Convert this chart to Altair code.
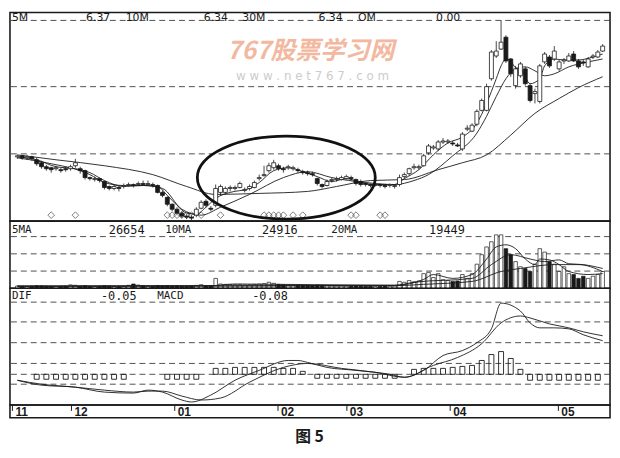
import altair as alt
import pandas as pd

# ---------------- data ----------------
open_ = [
    6.43, 6.44, 6.42, 6.43, 6.40, 6.37, 6.33, 6.32, 6.31, 6.30,
    6.31, 6.31, 6.34, 6.31, 6.29, 6.22, 6.20, 6.21, 6.18, 6.13,
    6.11, 6.12, 6.13, 6.14, 6.15, 6.15, 6.16, 6.15, 6.15, 6.14,
    6.07, 6.02, 5.95, 5.90, 5.86, 5.83, 5.82, 5.84, 5.91, 5.98,
    5.91, 5.94, 6.07, 6.07, 6.11, 6.11, 6.12, 6.09, 6.11, 6.12,
    6.21, 6.24, 6.29, 6.32, 6.34, 6.31, 6.32, 6.31, 6.30, 6.28,
    6.27, 6.26, 6.21, 6.15, 6.14, 6.19, 6.20, 6.20, 6.21, 6.22,
    6.20, 6.18, 6.16, 6.15, 6.14, 6.15, 6.14, 6.14, 6.13, 6.15,
    6.23, 6.26, 6.32, 6.32, 6.34, 6.47, 6.52, 6.51, 6.58, 6.58,
    6.57, 6.55, 6.51, 6.71, 6.69, 6.76, 6.90, 6.90, 7.22, 7.45,
    7.52, 7.64, 7.42, 7.15, 7.25, 7.32, 7.15, 7.07, 6.99, 7.39,
    7.44, 7.42, 7.32, 7.40, 7.40, 7.47, 7.40, 7.39, 7.34, 7.44,
    7.44, 7.50]
close = [
    6.44, 6.42, 6.43, 6.41, 6.36, 6.33, 6.31, 6.30, 6.32, 6.29,
    6.30, 6.33, 6.37, 6.29, 6.22, 6.21, 6.21, 6.19, 6.12, 6.11,
    6.13, 6.11, 6.14, 6.15, 6.14, 6.16, 6.15, 6.16, 6.14, 6.07,
    6.04, 5.95, 5.90, 5.86, 5.83, 5.82, 5.81, 5.90, 5.97, 5.94,
    5.90, 6.11, 6.13, 6.11, 6.12, 6.12, 6.16, 6.10, 6.13, 6.17,
    6.22, 6.25, 6.34, 6.37, 6.31, 6.30, 6.33, 6.32, 6.29, 6.27,
    6.26, 6.25, 6.16, 6.13, 6.18, 6.20, 6.21, 6.22, 6.23, 6.21,
    6.16, 6.15, 6.15, 6.14, 6.15, 6.14, 6.13, 6.15, 6.14, 6.22,
    6.25, 6.31, 6.33, 6.33, 6.44, 6.54, 6.53, 6.58, 6.59, 6.59,
    6.56, 6.54, 6.66, 6.72, 6.75, 6.89, 7.00, 7.14, 7.49, 7.50,
    7.59, 7.40, 7.27, 7.32, 7.37, 7.17, 7.00, 7.09, 7.35, 7.47,
    7.35, 7.50, 7.39, 7.41, 7.45, 7.40, 7.34, 7.38, 7.42, 7.45,
    7.49, 7.55]
high = [
    6.45, 6.45, 6.45, 6.44, 6.42, 6.39, 6.35, 6.33, 6.34, 6.32,
    6.33, 6.35, 6.41, 6.33, 6.30, 6.23, 6.23, 6.22, 6.19, 6.14,
    6.15, 6.14, 6.16, 6.17, 6.16, 6.18, 6.19, 6.19, 6.17, 6.15,
    6.09, 6.03, 5.96, 5.92, 5.88, 5.85, 5.84, 5.92, 5.99, 6.00,
    5.93, 6.15, 6.15, 6.13, 6.14, 6.14, 6.18, 6.12, 6.15, 6.19,
    6.25, 6.34, 6.37, 6.40, 6.36, 6.33, 6.35, 6.34, 6.32, 6.30,
    6.29, 6.28, 6.22, 6.16, 6.20, 6.22, 6.23, 6.24, 6.25, 6.24,
    6.21, 6.20, 6.17, 6.16, 6.16, 6.16, 6.15, 6.16, 6.15, 6.25,
    6.27, 6.32, 6.36, 6.35, 6.46, 6.56, 6.55, 6.60, 6.62, 6.61,
    6.59, 6.57, 6.68, 6.75, 6.77, 6.91, 7.02, 7.17, 7.51, 7.60,
    7.81, 7.66, 7.43, 7.35, 7.39, 7.34, 7.17, 7.12, 7.37, 7.49,
    7.46, 7.55, 7.41, 7.43, 7.48, 7.50, 7.42, 7.41, 7.44, 7.47,
    7.51, 7.57]
low = [
    6.41, 6.40, 6.40, 6.39, 6.34, 6.31, 6.29, 6.27, 6.29, 6.27,
    6.28, 6.29, 6.32, 6.26, 6.20, 6.19, 6.18, 6.17, 6.10, 6.09,
    6.09, 6.08, 6.11, 6.13, 6.12, 6.14, 6.14, 6.14, 6.12, 6.06,
    6.02, 5.93, 5.88, 5.84, 5.81, 5.80, 5.79, 5.82, 5.90, 5.92,
    5.88, 5.92, 6.04, 6.05, 6.08, 6.09, 6.11, 6.07, 6.09, 6.11,
    6.19, 6.23, 6.27, 6.30, 6.29, 6.27, 6.30, 6.29, 6.27, 6.25,
    6.24, 6.23, 6.14, 6.11, 6.13, 6.17, 6.18, 6.19, 6.20, 6.19,
    6.14, 6.13, 6.13, 6.12, 6.13, 6.12, 6.11, 6.12, 6.11, 6.13,
    6.21, 6.24, 6.30, 6.30, 6.33, 6.45, 6.50, 6.49, 6.56, 6.56,
    6.54, 6.53, 6.49, 6.69, 6.68, 6.74, 6.89, 6.89, 7.20, 7.43,
    7.51, 7.38, 7.24, 7.12, 7.23, 7.15, 6.98, 6.97, 6.97, 7.37,
    7.33, 7.40, 7.30, 7.37, 7.39, 7.39, 7.32, 7.35, 7.33, 7.42,
    7.43, 7.49]
volume = [
    2600, 2400, 2200, 2500, 3000, 2800, 2400, 2200, 2000, 2300,
    2500, 4000, 3500, 2500, 3000, 2200, 2000, 2400, 3000, 2600,
    2200, 2000, 2100, 3500, 5000, 3800, 3000, 2600, 2400, 3200,
    2800, 3000, 2600, 2800, 2400, 2300, 2600, 3400, 4200, 3000,
    2800, 11500, 5000, 4600, 4400, 4200, 4500, 4000, 4200, 4600,
    5000, 5500, 7000, 5800, 4600, 4200, 4000, 3800, 3600, 3400,
    3200, 3000, 3600, 3400, 3000, 2800, 2600, 2700, 2500, 2600,
    2800, 2600, 2400, 2500, 2300, 2400, 2600, 2500, 2700, 8000,
    7000, 9000, 7500, 8500, 17000, 18500, 12500, 17000, 10000, 9000,
    8000, 8500, 16000, 11500, 17000, 28000, 39000, 48000, 54000, 62000,
    62000, 46000, 39000, 31000, 25000, 23000, 19500, 28000, 46000, 42000,
    31000, 28000, 19500, 25000, 17000, 16000, 11500, 14000, 11500, 14000,
    16000, 19500]

ma5_day = [0, 4, 8, 12, 15, 18, 22, 26, 29, 31, 33, 35, 37, 39, 41, 44, 48, 50, 53, 56,
           59, 62, 65, 68, 71, 74, 78, 80, 83, 86, 89, 92, 95, 97, 99, 100, 101, 102, 103, 104,
           106, 108, 109, 111, 113, 116, 119, 121]
ma5_val = [6.43, 6.40, 6.33, 6.31, 6.27, 6.19, 6.13, 6.14, 6.13, 6.04, 5.94, 5.86, 5.85, 5.92, 6.01, 6.07, 6.11, 6.17, 6.29, 6.32,
           6.28, 6.23, 6.18, 6.21, 6.17, 6.15, 6.15, 6.21, 6.30, 6.45, 6.57, 6.63, 6.77, 6.97, 7.22, 7.35, 7.42, 7.40, 7.33, 7.32,
           7.17, 7.22, 7.35, 7.42, 7.41, 7.41, 7.44, 7.47]
ma10_day = [0, 6, 15, 18, 22, 26, 30, 34, 38, 42, 48, 55, 60, 65, 72, 78, 82, 85, 90, 95,
            97, 99, 101, 103, 105, 107, 109, 111, 114, 118, 121]
ma10_val = [6.42, 6.37, 6.25, 6.17, 6.14, 6.14, 6.11, 5.90, 5.84, 5.92, 6.05, 6.22, 6.28, 6.22, 6.17, 6.15, 6.19, 6.25, 6.44, 6.67,
            6.84, 7.04, 7.22, 7.32, 7.34, 7.30, 7.25, 7.27, 7.34, 7.39, 7.42]
ma30_day = [0, 8, 18, 28, 35, 41, 50, 60, 66, 73, 80, 87, 92, 97, 102, 107, 112, 116, 121]
ma30_val = [6.45, 6.40, 6.34, 6.25, 6.13, 6.05, 6.06, 6.08, 6.13, 6.19, 6.20, 6.30, 6.37, 6.45, 6.65, 6.87, 7.02, 7.13, 7.24]

vma5_day = [0, 40, 45, 78, 84, 86, 90, 94, 97, 99, 101, 103, 105, 107, 108, 110, 112, 114, 118, 121]
vma5_val = [2500, 3000, 5000, 3500, 10300, 16000, 11500, 16000, 34000, 48000, 50500, 46000, 34000, 27500, 34000, 33000, 27500, 19500, 16000, 17000]
vma10_day = [0, 78, 82, 94, 98, 102, 106, 109, 112, 114, 117, 121]
vma10_val = [2500, 3500, 7000, 11500, 27500, 39000, 34000, 31000, 33000, 28500, 27500, 23000]
vma20_day = [0, 78, 84, 94, 100, 104, 111, 116, 121]
vma20_val = [2500, 3000, 4600, 8000, 19500, 23000, 27500, 27500, 19500]

dif_day = [0, 5, 12, 18, 24, 27, 30, 34, 36, 40, 45, 50, 56, 58, 60, 64, 70, 77, 80, 84,
           88, 92, 95, 98, 100, 104, 106, 108, 111, 114, 117, 121]
dif_val = [-0.03, -0.055, -0.065, -0.09, -0.095, -0.08, -0.09, -0.13, -0.14, -0.105, -0.03, 0.02, 0.07, 0.07, 0.06, 0.035, 0.02, 0.0, -0.015, 0.02,
           0.095, 0.12, 0.16, 0.23, 0.36, 0.32, 0.26, 0.235, 0.235, 0.23, 0.20, 0.17]
dea_day = [0, 5, 12, 18, 24, 27, 30, 34, 38, 42, 48, 55, 60, 67, 74, 80, 86, 91, 96, 100,
           104, 106, 110, 114, 117, 121]
dea_val = [-0.03, -0.05, -0.065, -0.08, -0.09, -0.085, -0.085, -0.11, -0.13, -0.12, -0.04, 0.035, 0.055, 0.03, 0.01, -0.015, 0.045, 0.085, 0.155, 0.26,
           0.295, 0.285, 0.255, 0.235, 0.215, 0.195]
hist_day = [4, 6, 8, 10, 12, 14, 16, 18, 20, 22,
            31, 33, 35, 37,
            41, 43, 45, 47, 49, 51, 53, 55, 57, 59,
            62, 64, 66, 68, 70, 72, 74, 76, 78,
            82, 84, 86, 88, 90, 92, 94, 96, 98, 100, 102, 104,
            106, 108, 110, 112, 114, 116, 118, 120]
hist_val = [-0.025, -0.025, -0.025, -0.025, -0.025, -0.025, -0.025, -0.025, -0.025, -0.025,
            -0.025, -0.025, -0.025, -0.025,
            0.03, 0.03, 0.035, 0.035, 0.035, 0.035, 0.035, 0.03, 0.03, 0.015,
            -0.02, -0.02, -0.02, -0.02, -0.02, -0.02, -0.02, -0.02, -0.02,
            0.025, 0.03, 0.03, 0.03, 0.035, 0.04, 0.045, 0.07, 0.1, 0.115, 0.08, 0.025,
            -0.03, -0.03, -0.03, -0.03, -0.03, -0.03, -0.03, -0.03]

signal_day = [7, 12, 31, 32, 33, 34, 35, 36, 38, 42, 51, 52, 53, 54, 55, 57, 59, 69, 70, 75, 76]
month_day = [0, 12, 33, 54, 68, 89, 111]
month_lbl = ["11", "12", "01", "02", "03", "04", "05"]

price_grid = [6.46, 7.14, 7.81]
vol_grid = [20000, 40000, 60000]
macd_grid = [0.365, 0.265, 0.16, 0.055, 0.0, -0.05]

ellipse_day, ellipse_price = 55.6, 6.22

# ---------------- tables ----------------
days = list(range(len(close)))
bars = pd.DataFrame({"day": days, "open": open_, "high": high, "low": low,
                     "close": close, "vol": volume})


def series(pairs):
    rows = []
    for name, d, v in pairs:
        rows += [{"name": name, "day": a, "v": b} for a, b in zip(d, v)]
    return pd.DataFrame(rows)


price_ma = series([("MA5", ma5_day, ma5_val), ("MA10", ma10_day, ma10_val), ("MA30", ma30_day, ma30_val)])
vol_ma = series([("5MA", vma5_day, vma5_val), ("10MA", vma10_day, vma10_val), ("20MA", vma20_day, vma20_val)])
macd_lines = series([("DIF", dif_day, dif_val), ("MACD", dea_day, dea_val)])
hist = pd.DataFrame({"day": hist_day, "v": hist_val})
signals = pd.DataFrame({"day": signal_day})
months = pd.DataFrame({"day": month_day, "lbl": month_lbl})

# ---------------- styling ----------------
W = 607
H_PRICE, H_VOL, H_MACD, H_AXIS, H_CAP = 211, 68, 118, 13, 28
ink = "#1a1a1a"
grid_kw = dict(color="#3c3c3c", strokeWidth=0.9, strokeDash=[6, 4])
xs = alt.Scale(domain=[-0.5, 121.5], nice=False, zero=False)
X = alt.X("day:Q", scale=xs, axis=None)
up_fill = alt.condition("datum.close >= datum.open", alt.value("white"), alt.value(ink))


def label(txt, x, y, size=11, font="DejaVu Sans", weight="normal", color=ink,
          align="left", style="normal"):
    return alt.Chart(alt.Data(values=[{"t": txt}])).mark_text(
        align=align, baseline="middle", font=font, fontSize=size,
        fontWeight=weight, fontStyle=style, color=color
    ).encode(x=alt.value(x), y=alt.value(y), text="t:N")


# ---------------- price panel ----------------
py = alt.Scale(domain=[5.78, 7.89], nice=False, zero=False)
p_grid = alt.Chart(pd.DataFrame({"v": price_grid})).mark_rule(**grid_kw).encode(
    y=alt.Y("v:Q", scale=py, axis=None))
wick = alt.Chart(bars).mark_rule(color=ink, strokeWidth=0.8).encode(
    x=X, y=alt.Y("low:Q", scale=py, axis=None), y2="high:Q")
body = alt.Chart(bars).mark_bar(size=4, stroke=ink, strokeWidth=0.8).encode(
    x=X, y=alt.Y("open:Q", scale=py, axis=None), y2="close:Q", fill=up_fill)
p_ma = alt.Chart(price_ma).mark_line(color=ink, strokeWidth=0.9, interpolate="monotone").encode(
    x=X, y=alt.Y("v:Q", scale=py, axis=None), detail="name:N")
p_sig = alt.Chart(signals).mark_point(shape="diamond", size=45, filled=False, color=ink,
                                      strokeWidth=0.8).encode(x=X, y=alt.value(H_PRICE - 6))
ell_path = ("M -1 0 C -1 -0.258 -0.552 -0.467 0 -0.467 C 0.552 -0.467 1 -0.258 1 0 "
            "C 1 0.258 0.552 0.467 0 0.467 C -0.552 0.467 -1 0.258 -1 0 Z")
p_ell = alt.Chart(pd.DataFrame({"day": [ellipse_day], "p": [ellipse_price]})).mark_point(
    shape=ell_path, size=32400, filled=False, color="#111111", opacity=1,
    strokeWidth=2.8).encode(x=X, y=alt.Y("p:Q", scale=py, axis=None))

price = alt.layer(
    p_grid,
    label("767股票学习网", 304, 39, size=25, font="Noto Sans CJK SC", weight="bold",
          color="#f3b8a0", align="center", style="italic"),
    label("w w w . n e t 7 6 7 . c o m", 306, 64, size=12, color="#cccccc", align="center"),
    p_ma, wick, body, p_sig, p_ell,
    label("5M", 2, 5.5), label("6.37", 77, 5.5), label("10M", 117, 5.5),
    label("6.34", 196, 5.5), label("30M", 235, 5.5), label("6.34", 312, 5.5),
    label("OM", 352, 5.5), label("0.00", 431, 5.5),
).properties(width=W, height=H_PRICE)

# ---------------- volume panel ----------------
vy = alt.Scale(domain=[0, 78000], nice=False, zero=False)
mono = "DejaVu Sans Mono"
v_grid = alt.Chart(pd.DataFrame({"v": vol_grid})).mark_rule(**grid_kw).encode(
    y=alt.Y("v:Q", scale=vy, axis=None))
v_bars = alt.Chart(bars).mark_bar(size=3.6, stroke=ink, strokeWidth=0.7).encode(
    x=X, y=alt.Y("vol:Q", scale=vy, axis=None), y2=alt.datum(0), fill=up_fill)
v_ma = alt.Chart(vol_ma).mark_line(color=ink, strokeWidth=0.9, interpolate="monotone").encode(
    x=X, y=alt.Y("v:Q", scale=vy, axis=None), detail="name:N")
vol = alt.layer(
    v_grid, v_bars, v_ma,
    label("5MA", 2, 9, font=mono), label("26654", 100, 9, size=12, font=mono),
    label("10MA", 157, 9, font=mono), label("24916", 255, 9, size=12, font=mono),
    label("20MA", 325, 9, font=mono), label("19449", 424, 9, size=12, font=mono),
).properties(width=W, height=H_VOL)

# ---------------- MACD panel ----------------
my = alt.Scale(domain=[-0.155, 0.435], nice=False, zero=False)
m_grid = alt.Chart(pd.DataFrame({"v": macd_grid})).mark_rule(**grid_kw).encode(
    y=alt.Y("v:Q", scale=my, axis=None))
m_hist = alt.Chart(hist).mark_bar(size=5, fill="white", fillOpacity=0, stroke=ink,
                                  strokeWidth=0.9).encode(
    x=X, y=alt.Y("v:Q", scale=my, axis=None), y2=alt.datum(0))
m_lines = alt.Chart(macd_lines).mark_line(color=ink, strokeWidth=0.9, interpolate="monotone").encode(
    x=X, y=alt.Y("v:Q", scale=my, axis=None), detail="name:N")
macd = alt.layer(
    m_grid, m_hist, m_lines,
    label("DIF", 2, 8, font=mono), label("-0.05", 92, 8, size=12, font=mono),
    label("MACD", 149, 8, font=mono), label("-0.08", 245, 8, size=12, font=mono),
).properties(width=W, height=H_MACD)

# ---------------- month axis strip ----------------
ticks = alt.Chart(months).mark_rule(color=ink, strokeWidth=1).encode(
    x=X, y=alt.value(0), y2=alt.value(6))
tick_lbl = alt.Chart(months).mark_text(align="left", baseline="middle", dx=3,
                                       font="Liberation Sans", fontSize=12,
                                       fontWeight="bold", color=ink).encode(
    x=X, y=alt.value(7.5), text="lbl:N")
axis_strip = alt.layer(ticks, tick_lbl).properties(width=W, height=H_AXIS)

# ---------------- caption ----------------
caption = label("图  5", 303, 19, size=16, font="Noto Sans CJK SC", weight="bold",
                align="center").properties(
    width=W, height=H_CAP, view=alt.ViewBackground(stroke="transparent"))

chart = alt.vconcat(price, vol, macd, axis_strip, caption, spacing=0,
                    bounds="flush").properties(
    padding=0, background="white"
).configure_view(stroke=ink, strokeWidth=1.6)

chart.save("out.html", embed_options={"renderer": "svg", "actions": False})
